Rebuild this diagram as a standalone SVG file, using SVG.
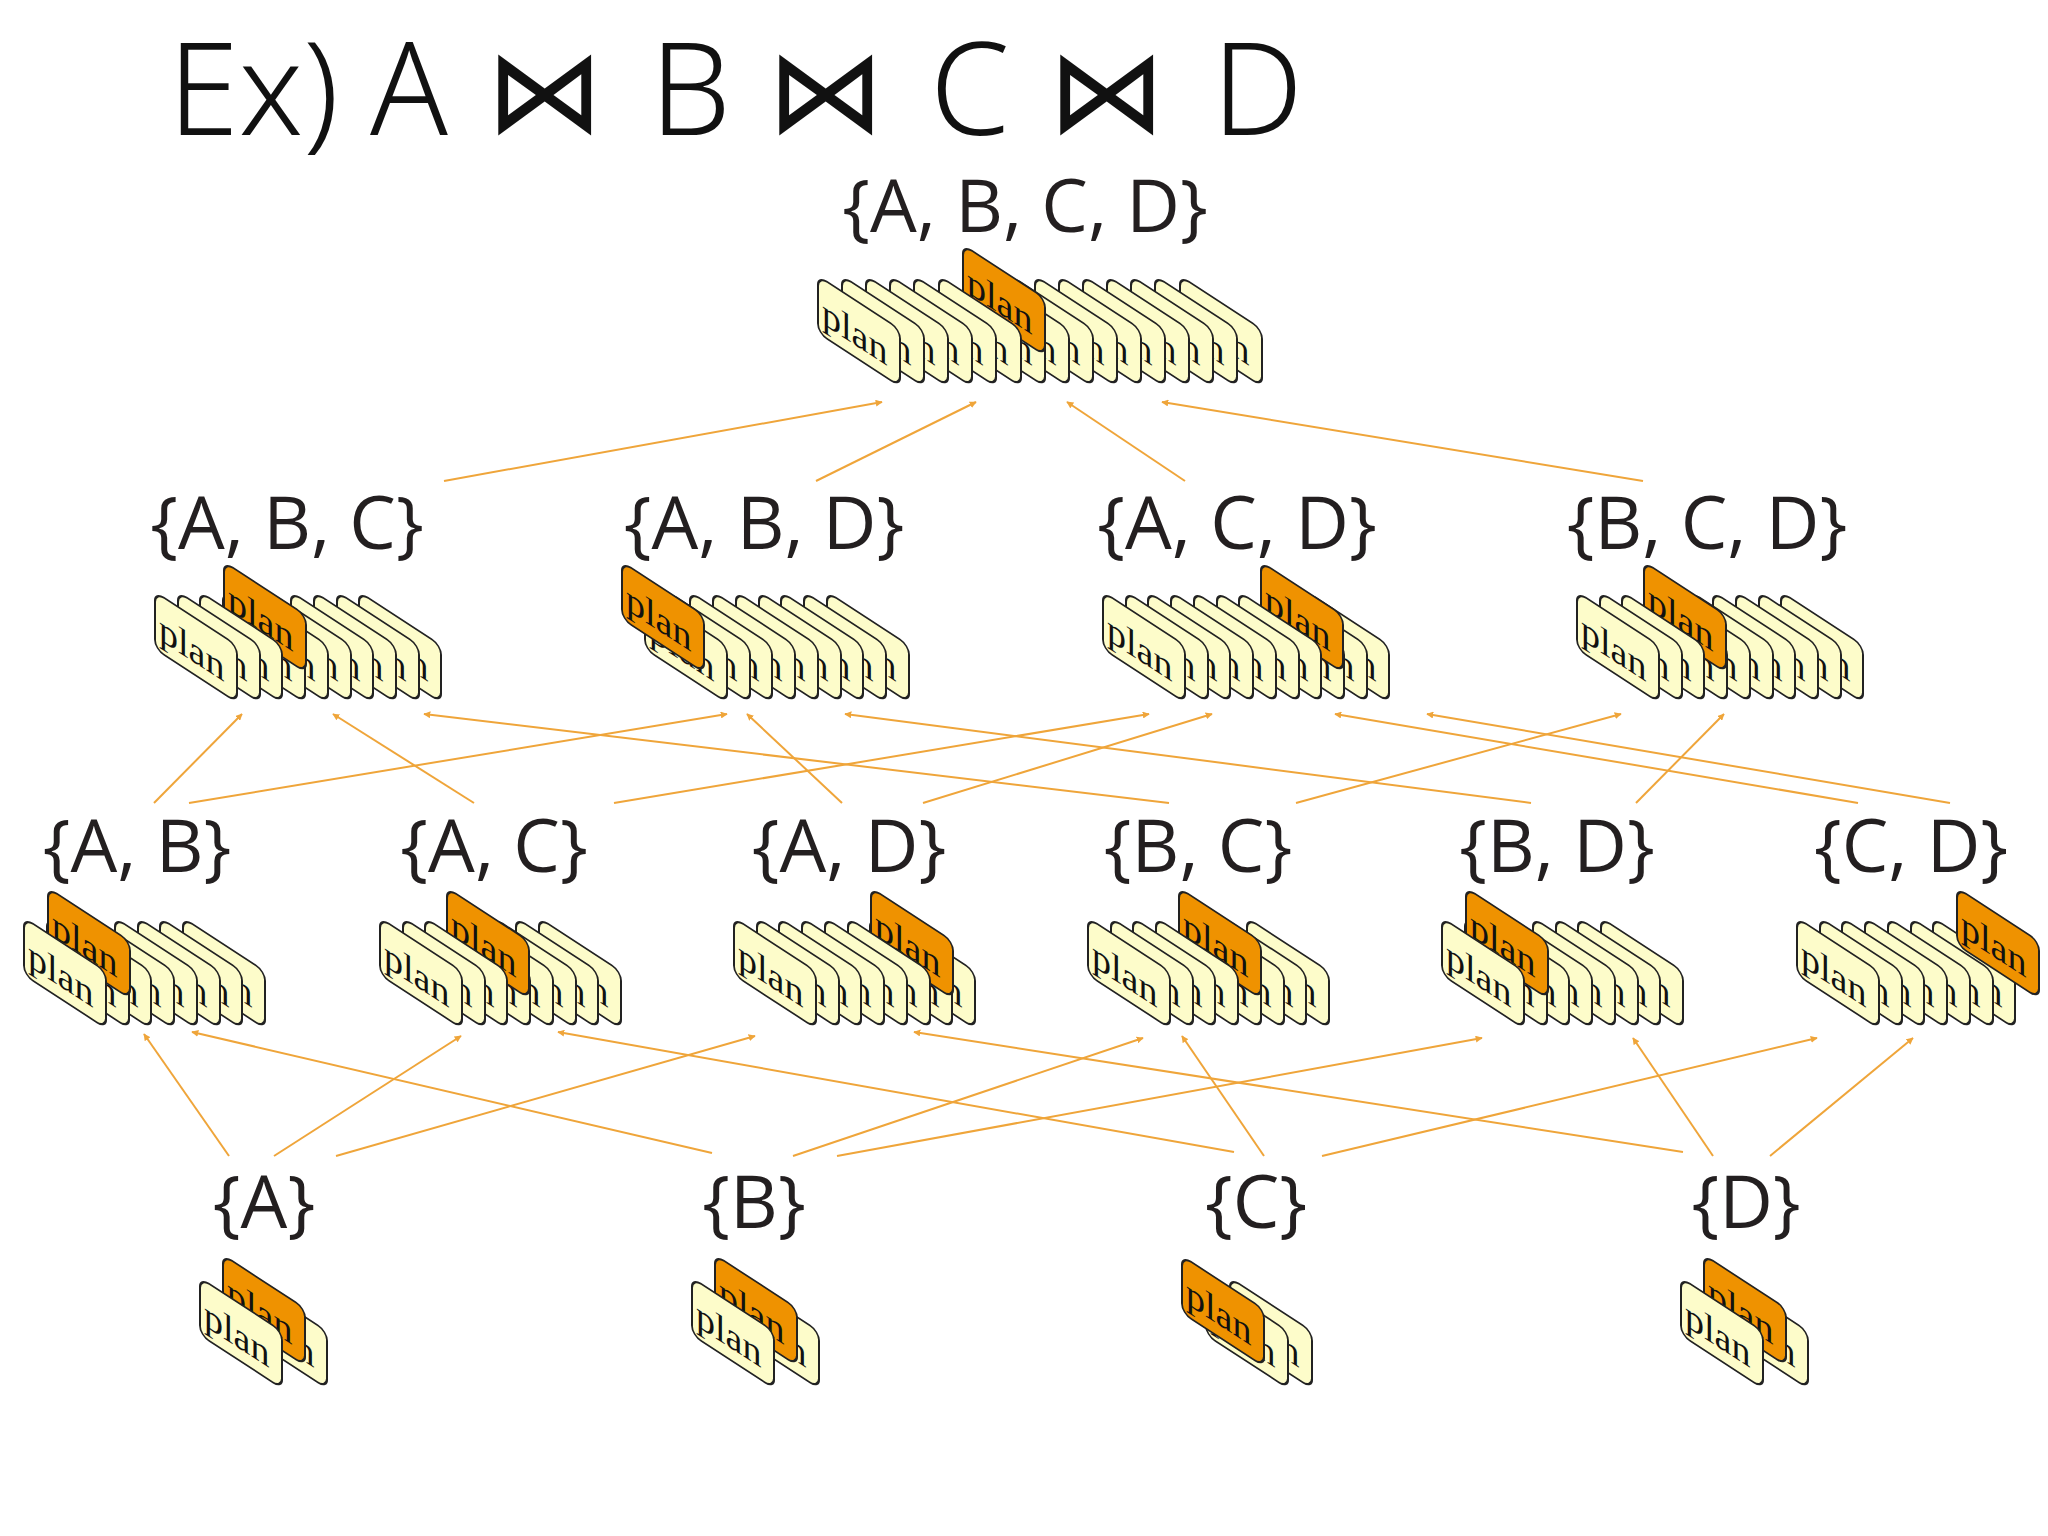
<svg xmlns="http://www.w3.org/2000/svg" xmlns:xlink="http://www.w3.org/1999/xlink" width="2048" height="1536" viewBox="0 0 2048 1536">
<style>
.lbl{font-family:"Open Sans","Noto Sans",sans-serif;font-size:74px;fill:#231f20;text-anchor:middle}
.ttl{font-family:"Noto Sans","Open Sans",sans-serif;font-size:128px;fill:#111;font-weight:300}
.bt{font-family:"DejaVu Sans",sans-serif;font-size:118px;fill:#111;text-anchor:middle}
.cy rect{fill:#fdfcca;stroke:#222;stroke-width:2}
.co rect{fill:#ef9200;stroke:#222;stroke-width:2}
.cy text,.co text{font-family:"Liberation Serif",serif;font-size:38px;fill:#111}
.cn line{stroke:#efa53a;stroke-width:2;marker-end:url(#ah)}
</style>
<defs>
<marker id="ah" viewBox="0 0 10 10" refX="9" refY="5" markerWidth="7" markerHeight="7" orient="auto" markerUnits="userSpaceOnUse"><path d="M0,0 L10,5 L0,10 z" fill="#efa53a"/></marker>
<g id="y" class="cy" transform="skewY(33)"><rect width="82" height="57" rx="9"/><text x="4" y="45">plan</text></g>
<g id="o" class="co" transform="skewY(33)"><rect width="82" height="57" rx="9"/><text x="4" y="45">plan</text></g>
</defs>
<rect width="2048" height="1536" fill="#fff"/>
<g id="title">
<text class="ttl" x="168" y="135">Ex)</text>
<text class="ttl" x="370" y="135">A</text>
<text class="bt" x="545" y="132">⋈</text>
<text class="ttl" x="650" y="135">B</text>
<text class="bt" x="826" y="132">⋈</text>
<text class="ttl" x="930" y="135">C</text>
<text class="bt" x="1107" y="132">⋈</text>
<text class="ttl" x="1212" y="135">D</text>
</g>
<g id="connectors" class="cn">
<line x1="444" y1="481" x2="882" y2="402"/>
<line x1="816" y1="481" x2="976" y2="402"/>
<line x1="1185" y1="481" x2="1067" y2="402"/>
<line x1="1643" y1="481" x2="1162" y2="402"/>
<line x1="154" y1="803" x2="242" y2="714"/>
<line x1="189" y1="803" x2="727" y2="714"/>
<line x1="474" y1="803" x2="333" y2="714"/>
<line x1="614" y1="803" x2="1149" y2="714"/>
<line x1="842" y1="803" x2="747" y2="714"/>
<line x1="923" y1="803" x2="1212" y2="714"/>
<line x1="1169" y1="803" x2="424" y2="714"/>
<line x1="1296" y1="803" x2="1621" y2="714"/>
<line x1="1531" y1="803" x2="845" y2="714"/>
<line x1="1636" y1="803" x2="1724" y2="714"/>
<line x1="1858" y1="803" x2="1335" y2="714"/>
<line x1="1950" y1="803" x2="1427" y2="714"/>
<line x1="229" y1="1156" x2="144" y2="1034"/>
<line x1="274" y1="1156" x2="461" y2="1036"/>
<line x1="336" y1="1156" x2="755" y2="1036"/>
<line x1="712" y1="1153" x2="192" y2="1032"/>
<line x1="793" y1="1156" x2="1143" y2="1038"/>
<line x1="837" y1="1156" x2="1482" y2="1038"/>
<line x1="1234" y1="1152" x2="558" y2="1032"/>
<line x1="1264" y1="1156" x2="1182" y2="1036"/>
<line x1="1322" y1="1156" x2="1817" y2="1038"/>
<line x1="1683" y1="1152" x2="914" y2="1032"/>
<line x1="1713" y1="1156" x2="1633" y2="1038"/>
<line x1="1770" y1="1156" x2="1913" y2="1038"/>
</g>
<g id="ABCD">
<text class="lbl" x="1025" y="232">{A, B, C, D}</text>
<use href="#y" x="1180" y="276"/><use href="#y" x="1155" y="276"/><use href="#y" x="1131" y="276"/><use href="#y" x="1107" y="276"/><use href="#y" x="1083" y="276"/><use href="#y" x="1059" y="276"/><use href="#y" x="1035" y="276"/><use href="#y" x="1011" y="276"/><use href="#y" x="987" y="276"/><use href="#y" x="963" y="276"/>
<use href="#o" x="963" y="245"/>
<use href="#y" x="939" y="276"/><use href="#y" x="914" y="276"/><use href="#y" x="890" y="276"/><use href="#y" x="866" y="276"/><use href="#y" x="842" y="276"/><use href="#y" x="818" y="276"/>
</g>
<g id="ABC">
<text class="lbl" x="287" y="549">{A, B, C}</text>
<use href="#y" x="359" y="592"/><use href="#y" x="337" y="592"/><use href="#y" x="314" y="592"/><use href="#y" x="291" y="592"/><use href="#y" x="269" y="592"/><use href="#y" x="246" y="592"/><use href="#y" x="223" y="592"/>
<use href="#o" x="224" y="562"/>
<use href="#y" x="200" y="592"/><use href="#y" x="178" y="592"/><use href="#y" x="155" y="592"/>
</g>
<g id="ABD">
<text class="lbl" x="764" y="549">{A, B, D}</text>
<use href="#y" x="827" y="592"/><use href="#y" x="804" y="592"/><use href="#y" x="781" y="592"/><use href="#y" x="759" y="592"/><use href="#y" x="736" y="592"/><use href="#y" x="713" y="592"/><use href="#y" x="690" y="592"/><use href="#y" x="668" y="592"/><use href="#y" x="645" y="592"/>
<use href="#o" x="622" y="562"/>
</g>
<g id="ACD">
<text class="lbl" x="1237" y="549">{A, C, D}</text>
<use href="#y" x="1307" y="592"/><use href="#y" x="1285" y="592"/><use href="#y" x="1262" y="592"/>
<use href="#o" x="1261" y="562"/>
<use href="#y" x="1239" y="592"/><use href="#y" x="1217" y="592"/><use href="#y" x="1194" y="592"/><use href="#y" x="1171" y="592"/><use href="#y" x="1148" y="592"/><use href="#y" x="1126" y="592"/><use href="#y" x="1103" y="592"/>
</g>
<g id="BCD">
<text class="lbl" x="1707" y="549">{B, C, D}</text>
<use href="#y" x="1781" y="592"/><use href="#y" x="1759" y="592"/><use href="#y" x="1736" y="592"/><use href="#y" x="1713" y="592"/><use href="#y" x="1691" y="592"/><use href="#y" x="1668" y="592"/><use href="#y" x="1645" y="592"/>
<use href="#o" x="1644" y="562"/>
<use href="#y" x="1622" y="592"/><use href="#y" x="1600" y="592"/><use href="#y" x="1577" y="592"/>
</g>
<g id="AB">
<text class="lbl" x="137" y="872">{A, B}</text>
<use href="#y" x="183" y="918"/><use href="#y" x="160" y="918"/><use href="#y" x="138" y="918"/><use href="#y" x="115" y="918"/><use href="#y" x="92" y="918"/><use href="#y" x="69" y="918"/><use href="#y" x="47" y="918"/>
<use href="#o" x="48" y="888"/>
<use href="#y" x="24" y="918"/>
</g>
<g id="AC">
<text class="lbl" x="494" y="872">{A, C}</text>
<use href="#y" x="539" y="918"/><use href="#y" x="516" y="918"/><use href="#y" x="494" y="918"/><use href="#y" x="471" y="918"/><use href="#y" x="448" y="918"/>
<use href="#o" x="447" y="888"/>
<use href="#y" x="425" y="918"/><use href="#y" x="403" y="918"/><use href="#y" x="380" y="918"/>
</g>
<g id="AD">
<text class="lbl" x="849" y="872">{A, D}</text>
<use href="#y" x="893" y="918"/><use href="#y" x="870" y="918"/>
<use href="#o" x="871" y="888"/>
<use href="#y" x="848" y="918"/><use href="#y" x="825" y="918"/><use href="#y" x="802" y="918"/><use href="#y" x="779" y="918"/><use href="#y" x="757" y="918"/><use href="#y" x="734" y="918"/>
</g>
<g id="BC">
<text class="lbl" x="1198" y="872">{B, C}</text>
<use href="#y" x="1247" y="918"/><use href="#y" x="1224" y="918"/><use href="#y" x="1202" y="918"/><use href="#y" x="1179" y="918"/>
<use href="#o" x="1179" y="888"/>
<use href="#y" x="1156" y="918"/><use href="#y" x="1133" y="918"/><use href="#y" x="1111" y="918"/><use href="#y" x="1088" y="918"/>
</g>
<g id="BD">
<text class="lbl" x="1557" y="872">{B, D}</text>
<use href="#y" x="1601" y="918"/><use href="#y" x="1578" y="918"/><use href="#y" x="1556" y="918"/><use href="#y" x="1533" y="918"/><use href="#y" x="1510" y="918"/><use href="#y" x="1487" y="918"/><use href="#y" x="1465" y="918"/>
<use href="#o" x="1466" y="888"/>
<use href="#y" x="1442" y="918"/>
</g>
<g id="CD">
<text class="lbl" x="1911" y="872">{C, D}</text>
<use href="#y" x="1933" y="918"/><use href="#y" x="1911" y="918"/><use href="#y" x="1888" y="918"/><use href="#y" x="1865" y="918"/><use href="#y" x="1842" y="918"/><use href="#y" x="1820" y="918"/><use href="#y" x="1797" y="918"/>
<use href="#o" x="1957" y="888"/>
</g>
<g id="A">
<text class="lbl" x="264" y="1228">{A}</text>
<use href="#y" x="245" y="1278"/><use href="#o" x="223" y="1255"/><use href="#y" x="200" y="1278"/>
</g>
<g id="B">
<text class="lbl" x="754" y="1228">{B}</text>
<use href="#y" x="737" y="1278"/><use href="#o" x="715" y="1255"/><use href="#y" x="692" y="1278"/>
</g>
<g id="C">
<text class="lbl" x="1256" y="1228">{C}</text>
<use href="#y" x="1230" y="1278"/><use href="#y" x="1206" y="1278"/><use href="#o" x="1182" y="1256"/>
</g>
<g id="D">
<text class="lbl" x="1746" y="1228">{D}</text>
<use href="#y" x="1726" y="1278"/><use href="#o" x="1704" y="1255"/><use href="#y" x="1681" y="1278"/>
</g>
</svg>
